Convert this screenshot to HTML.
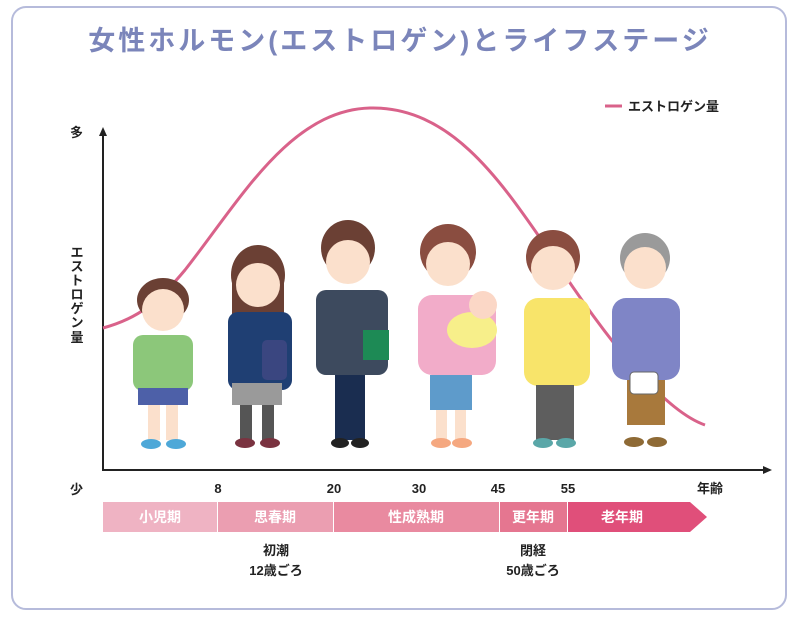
<!DOCTYPE html>
<html><head><meta charset="utf-8"><style>
body{margin:0;background:#fff;}
svg{display:block;font-family:"Liberation Sans","Noto Sans CJK JP",sans-serif;}
</style></head><body>
<svg width="800" height="619" viewBox="0 0 800 619">
<rect x="12" y="7" width="774" height="602" rx="14" fill="#fff" stroke="#b6bbdb" stroke-width="2"/>
<text x="400" y="50" text-anchor="middle" font-size="27" font-weight="bold" fill="#7b85ba" letter-spacing="3">女性ホルモン(エストロゲン)とライフステージ</text>
<line x1="605" y1="106" x2="622" y2="106" stroke="#d9628a" stroke-width="3"/>
<text x="628" y="111" font-size="13" font-weight="bold" fill="#222">エストロゲン量</text>
<text x="70" y="137" font-size="13" font-weight="bold" fill="#222">多</text>
<text x="70" y="494" font-size="13" font-weight="bold" fill="#222">少</text>
<g font-size="13" font-weight="bold" fill="#222" text-anchor="middle">
<text x="77" y="257">エ</text><text x="77" y="271">ス</text><text x="77" y="285">ト</text><text x="77" y="299">ロ</text><text x="77" y="313">ゲ</text><text x="77" y="327">ン</text><text x="77" y="342">量</text>
</g>
<line x1="103" y1="130" x2="103" y2="471" stroke="#222" stroke-width="2"/>
<path d="M99,136 L103,127 L107,136 Z" fill="#222"/>
<line x1="102" y1="470" x2="770" y2="470" stroke="#222" stroke-width="2"/>
<path d="M763,466 L772,470 L763,474 Z" fill="#222"/>
<path d="M103,328 C140,318 160,300 185,270 C240,200 290,110 370,108 C450,106 500,180 545,245 C580,300 610,340 640,375 C665,400 685,418 705,425" fill="none" stroke="#d9628a" stroke-width="3"/>
<g>
<ellipse cx="163" cy="300" rx="26" ry="22" fill="#6b4034"/>
<circle cx="163" cy="310" r="21" fill="#fbe0cc"/>
<rect x="133" y="335" width="60" height="56" rx="10" fill="#8cc77a"/>
<rect x="138" y="388" width="50" height="17" fill="#4d60a8"/>
<rect x="148" y="405" width="12" height="35" fill="#fbe0cc"/><rect x="166" y="405" width="12" height="35" fill="#fbe0cc"/>
<ellipse cx="151" cy="444" rx="10" ry="5" fill="#4ea8d8"/><ellipse cx="176" cy="444" rx="10" ry="5" fill="#4ea8d8"/>
</g>
<g>
<ellipse cx="258" cy="275" rx="27" ry="30" fill="#6b4034"/>
<rect x="232" y="275" width="52" height="45" fill="#6b4034"/>
<circle cx="258" cy="285" r="22" fill="#fbe0cc"/>
<rect x="228" y="312" width="64" height="78" rx="10" fill="#1f3f73"/>
<rect x="232" y="383" width="50" height="22" fill="#9a9a9a"/>
<rect x="262" y="340" width="25" height="40" rx="5" fill="#3a4680"/>
<rect x="240" y="405" width="12" height="35" fill="#555"/><rect x="262" y="405" width="12" height="35" fill="#555"/>
<ellipse cx="245" cy="443" rx="10" ry="5" fill="#7a3340"/><ellipse cx="270" cy="443" rx="10" ry="5" fill="#7a3340"/>
</g>
<g>
<ellipse cx="348" cy="248" rx="27" ry="28" fill="#6b4034"/>
<circle cx="348" cy="262" r="22" fill="#fbe0cc"/>
<rect x="316" y="290" width="72" height="85" rx="10" fill="#3d4a5e"/>
<rect x="363" y="330" width="26" height="30" fill="#1d8a55"/>
<rect x="335" y="375" width="30" height="65" fill="#1a2d50"/>
<ellipse cx="340" cy="443" rx="9" ry="5" fill="#222"/><ellipse cx="360" cy="443" rx="9" ry="5" fill="#222"/>
</g>
<g>
<ellipse cx="448" cy="252" rx="28" ry="28" fill="#8a4d40"/>
<circle cx="448" cy="264" r="22" fill="#fbe0cc"/>
<rect x="418" y="295" width="78" height="80" rx="14" fill="#f2acc9"/>
<ellipse cx="472" cy="330" rx="25" ry="18" fill="#f7ef8a"/>
<circle cx="483" cy="305" r="14" fill="#fbd7c6"/>
<rect x="430" y="375" width="42" height="35" fill="#5e9bcb"/>
<rect x="436" y="410" width="11" height="30" fill="#fbe0cc"/><rect x="455" y="410" width="11" height="30" fill="#fbe0cc"/>
<ellipse cx="441" cy="443" rx="10" ry="5" fill="#f5a880"/><ellipse cx="462" cy="443" rx="10" ry="5" fill="#f5a880"/>
</g>
<g>
<ellipse cx="553" cy="257" rx="27" ry="27" fill="#8a4d40"/>
<circle cx="553" cy="268" r="22" fill="#fbe0cc"/>
<rect x="524" y="298" width="66" height="88" rx="14" fill="#f8e46a"/>
<rect x="536" y="385" width="38" height="55" fill="#5e5e5e"/>
<ellipse cx="543" cy="443" rx="10" ry="5" fill="#5aa7a8"/><ellipse cx="566" cy="443" rx="10" ry="5" fill="#5aa7a8"/>
</g>
<g>
<ellipse cx="645" cy="258" rx="25" ry="25" fill="#9a9a9a"/>
<circle cx="645" cy="268" r="21" fill="#fbe0cc"/>
<rect x="612" y="298" width="68" height="82" rx="14" fill="#7f85c6"/>
<rect x="627" y="380" width="38" height="45" fill="#a8793c"/>
<rect x="630" y="372" width="28" height="22" rx="4" fill="#fff" stroke="#666"/>
<ellipse cx="634" cy="442" rx="10" ry="5" fill="#8e6a35"/><ellipse cx="657" cy="442" rx="10" ry="5" fill="#8e6a35"/>
</g>
<g font-size="13" font-weight="bold" fill="#222" text-anchor="middle">
<text x="218" y="493">8</text><text x="334" y="493">20</text><text x="419" y="493">30</text><text x="498" y="493">45</text><text x="568" y="493">55</text>
<text x="710" y="493">年齢</text>
</g>
<rect x="103" y="502" width="114" height="30" fill="#efb3c3"/>
<rect x="218" y="502" width="115" height="30" fill="#eb9eb1"/>
<rect x="334" y="502" width="165" height="30" fill="#e98aa0"/>
<rect x="500" y="502" width="67" height="30" fill="#e57690"/>
<path d="M568,502 L690,502 L707,517 L690,532 L568,532 Z" fill="#e04f7a"/>
<g font-size="14" font-weight="bold" fill="#fff" text-anchor="middle">
<text x="160" y="522">小児期</text><text x="275" y="522">思春期</text><text x="416" y="522">性成熟期</text><text x="533" y="522">更年期</text><text x="622" y="522">老年期</text>
</g>
<g font-size="13" font-weight="bold" fill="#222" text-anchor="middle">
<text x="276" y="555">初潮</text><text x="276" y="575">12歳ごろ</text>
<text x="533" y="555">閉経</text><text x="533" y="575">50歳ごろ</text>
</g>
</svg>
</body></html>
